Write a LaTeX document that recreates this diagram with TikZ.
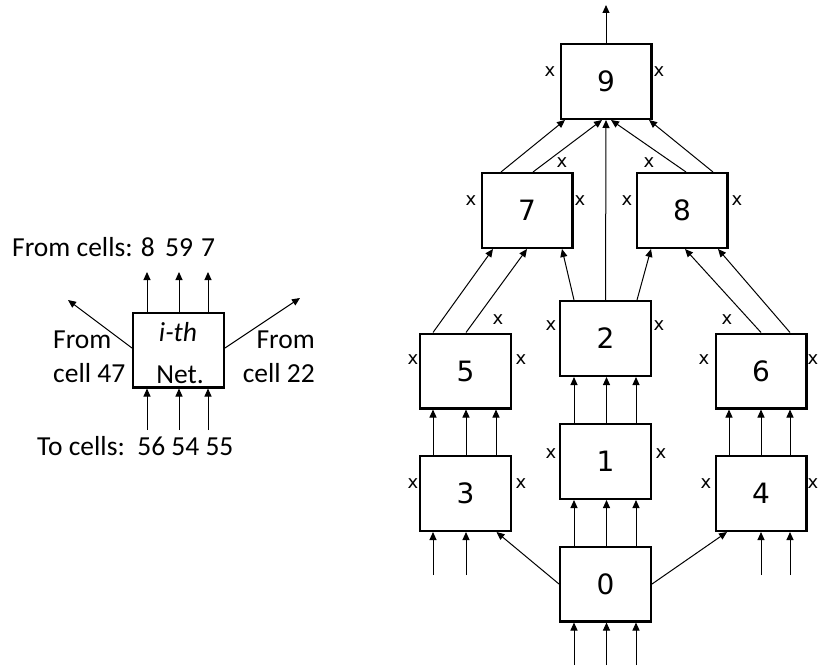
\documentclass[tikz,border=0pt]{standalone}
\usepackage{fontspec}
\setmainfont{Carlito}
\newfontfamily\djv{DejaVu Sans}
\usetikzlibrary{arrows.meta}
\begin{document}
\begin{tikzpicture}[x=1pt,y=-1pt,
 cell/.style={draw, line width=2.3pt, minimum width=90.7pt, minimum height=74.7pt, inner sep=0pt, font=\djv\fontsize{28}{32}\selectfont},
 xl/.style={inner sep=0pt, font=\djv\fontsize{18}{21}\selectfont},
 conn/.style={line width=1pt, -{Triangle[length=8pt,width=7pt]}},
 lbl/.style={inner sep=0pt, font=\fontsize{27.5}{32}\selectfont}]
\useasboundingbox[fill=white] (0,0) rectangle (818,671);

% ---------- left panel ----------
\node[cell, font=\fontsize{27.5}{32}\selectfont] (lb) at (178.5,350) {};
\node[lbl, anchor=base] (ith) at (178,341.7) {\textit{i-th}};
\node[lbl, anchor=base] (net) at (180,383) {Net.};
\node[lbl, anchor=base west] (fc) at (12,256.7) {From cells: 8};
\node[lbl, anchor=base] (f59) at (179,256.7) {59};
\node[lbl, anchor=base] (f7) at (208,256.7) {7};
\node[lbl, anchor=base west] (fromA) at (53,348) {From};
\node[lbl, anchor=base west] (cellA) at (53,382) {cell 47};
\node[lbl, anchor=base east] (fromB) at (315,348) {From};
\node[lbl, anchor=base east] (cellB) at (315,382) {cell 22};
\node[lbl, anchor=base west] (tc) at (37,455) {To cells:\ \ 56 54 55};

\coordinate (lu1) at (147,272);
\coordinate (lu2) at (179,272);
\coordinate (lu3) at (208,272);
\coordinate (ld1) at (147,430);
\coordinate (ld2) at (179,430);
\coordinate (ld3) at (208,430);
\coordinate (lul) at (68,300);
\coordinate (lur) at (300,298);
\draw[conn] ([xshift=-31.5pt]lb.north) -- (lu1);
\draw[conn] ([xshift=0.5pt]lb.north) -- (lu2);
\draw[conn] ([xshift=29.5pt]lb.north) -- (lu3);
\draw[conn] (ld1) -- ([xshift=-31.5pt]lb.south);
\draw[conn] (ld2) -- ([xshift=0.5pt]lb.south);
\draw[conn] (ld3) -- ([xshift=29.5pt]lb.south);
\draw[conn] ([yshift=2pt]lb.west) -- (lul);
\draw[conn] ([yshift=2pt]lb.east) -- (lur);

% ---------- right panel ----------
\node[cell] (n9) at (606,81.5) {9};
\node[cell] (n7) at (527,210.5) {7};
\node[cell] (n8) at (682,210.5) {8};
\node[cell] (n2) at (605.5,338.5) {2};
\node[cell] (n5) at (465.5,371) {5};
\node[cell] (n6) at (761,371) {6};
\node[cell] (n1) at (605.5,461.5) {1};
\node[cell] (n3) at (465.5,493.5) {3};
\node[cell] (n4) at (761,493.5) {4};
\node[cell] (n0) at (605.5,584) {0};

% x labels
\node[xl] (x9a) at (550,72) {x};
\node[xl] (x9b) at (659,72) {x};
\node[xl] (x7a) at (471,201) {x};
\node[xl] (x7b) at (580,201) {x};
\node[xl] (x7c) at (562,163) {x};
\node[xl] (x8a) at (627,201) {x};
\node[xl] (x8b) at (737,201) {x};
\node[xl] (x8c) at (649,163) {x};
\node[xl] (x2a) at (551,326) {x};
\node[xl] (x2b) at (659,326) {x};
\node[xl] (x5a) at (413,360) {x};
\node[xl] (x5b) at (521,360) {x};
\node[xl] (x5c) at (498,320) {x};
\node[xl] (x6a) at (704,360) {x};
\node[xl] (x6b) at (813,360) {x};
\node[xl] (x6c) at (727,320) {x};
\node[xl] (x1a) at (551,454) {x};
\node[xl] (x1b) at (661,454) {x};
\node[xl] (x3a) at (413,484) {x};
\node[xl] (x3b) at (521,484) {x};
\node[xl] (x4a) at (706,484) {x};
\node[xl] (x4b) at (813,484) {x};

% free ends
\coordinate (top) at (606,5);
\coordinate (b0a) at (574,665);
\coordinate (b0b) at (606.5,665);
\coordinate (b0c) at (636,665);
\coordinate (b3a) at (433,575);
\coordinate (b3b) at (466,575);
\coordinate (b4a) at (761,575);
\coordinate (b4b) at (790,575);

% connectors
\draw[conn] (n9.north) -- (top);
\draw[conn] ([xshift=-26pt]n7.north) -- ([xshift=-41pt]n9.south);
\draw[conn] ([xshift=6pt]n7.north) -- ([xshift=-4pt]n9.south);
\draw[conn] (n2.north) -- (n9.south);
\draw[conn] ([xshift=4pt]n8.north) -- ([xshift=5pt]n9.south);
\draw[conn] ([xshift=31pt]n8.north) -- ([xshift=43pt]n9.south);

\draw[conn] ([xshift=-32.5pt]n5.north) -- ([xshift=-34pt]n7.south);
\draw[conn] ([xshift=0.5pt]n5.north) -- ([xshift=0pt]n7.south);
\draw[conn] ([xshift=-31.5pt]n2.north) -- ([xshift=35pt]n7.south);
\draw[conn] ([xshift=31.5pt]n2.north) -- ([xshift=-31pt]n8.south);
\draw[conn] ([xshift=0pt]n6.north) -- ([xshift=3pt]n8.south);
\draw[conn] ([xshift=29pt]n6.north) -- ([xshift=36pt]n8.south);

\foreach \s in {-31.5,1,30.5} {
  \draw[conn] ([xshift=\s pt]n1.north) -- ([xshift=\s pt]n2.south);
  \draw[conn] ([xshift=\s pt]n0.north) -- ([xshift=\s pt]n1.south);
}
\draw[conn] (b0a) -- ([xshift=-31.5pt]n0.south);
\draw[conn] (b0b) -- ([xshift=1pt]n0.south);
\draw[conn] (b0c) -- ([xshift=30.5pt]n0.south);

\foreach \s in {-32.5,0.5,30.5} {
  \draw[conn] ([xshift=\s pt]n3.north) -- ([xshift=\s pt]n5.south);
}
\foreach \s in {-32,0,29} {
  \draw[conn] ([xshift=\s pt]n4.north) -- ([xshift=\s pt]n6.south);
}
\draw[conn] (b3a) -- ([xshift=-32.5pt]n3.south);
\draw[conn] (b3b) -- ([xshift=0.5pt]n3.south);
\draw[conn] (b4a) -- ([xshift=0pt]n4.south);
\draw[conn] (b4b) -- ([xshift=29pt]n4.south);

\draw[conn] (n0.west) -- ([xshift=31pt]n3.south);
\draw[conn] (n0.east) -- ([xshift=-34pt]n4.south);
\end{tikzpicture}
\end{document}
